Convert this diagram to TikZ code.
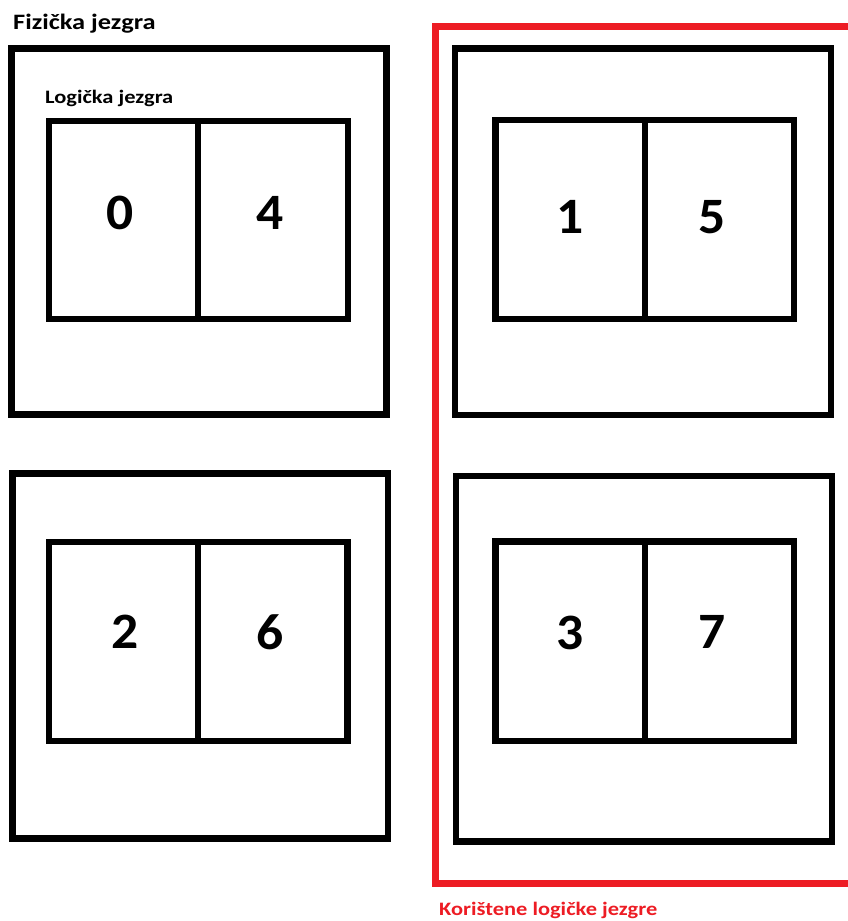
\documentclass[tikz,border=0pt]{standalone}
\usepackage{fontspec}
\setmainfont{Carlito}
\definecolor{paintred}{RGB}{237,28,36}
\begin{document}
\begin{tikzpicture}[x=1pt,y=-1pt,
  box/.style={draw=black, line width=6.5pt, rectangle, inner sep=0pt, outer sep=0pt},
  num/.style={font=\bfseries\fontsize{51}{51}\selectfont, inner sep=0pt, xscale=1.05},
  lbl/.style={font=\bfseries\fontsize{#1}{#1}\selectfont, inner sep=0pt, anchor=base west},
  redline/.style={draw=paintred, line width=7pt}]
\useasboundingbox (0,0) rectangle (848,921);
% physical cores
\node[box, minimum width=375pt, minimum height=366pt] (p0) at (199,231.5) {};
\node[box, minimum width=375.5pt, minimum height=365pt] (p2) at (200.25,656) {};
\node[box, minimum width=376pt, minimum height=366.5pt] (p1) at (643,231.75) {};
\node[box, minimum width=376pt, minimum height=365.5pt] (p3) at (644,658.75) {};
% logical cores
\node[box, minimum width=149pt, minimum height=198pt] (c0) at (123.5,220) {};
\node[box, minimum width=150pt, minimum height=198pt] (c4) at (273,220) {};
\node[box, minimum width=149pt, minimum height=199pt] (c2) at (123.5,641.5) {};
\node[box, minimum width=149.5pt, minimum height=199pt] (c6) at (272.75,641.5) {};
\node[box, minimum width=149.5pt, minimum height=199pt] (c1) at (570.25,219.5) {};
\node[box, minimum width=149pt, minimum height=199pt] (c5) at (719.5,219.5) {};
\node[box, minimum width=149.5pt, minimum height=199.5pt] (c3) at (570.25,641.25) {};
\node[box, minimum width=149pt, minimum height=199.5pt] (c7) at (719.5,641.25) {};
% numbers
\node[num] (n0) at (120,213) {0};
\node[num] (n4) at (270,213) {4};
\node[num] (n1) at (570,217) {1};
\node[num] (n5) at (712,217) {5};
\node[num] (n2) at (125,632) {2};
\node[num] (n6) at (270,632) {6};
\node[num] (n3) at (570,633) {3};
\node[num] (n7) at (712,632) {7};
% labels
\node[lbl=22, xscale=1.2] (fiz) at (13,29) {Fizička jezgra};
\node[lbl=19, xscale=1.18] (log) at (45,103) {Logička jezgra};
\node[lbl=19, xscale=1.18, text=paintred] (kor) at (439,915) {Korištene logičke jezgre};
% red bracket
\coordinate (r1) at (848,26.5);
\coordinate (r2) at (435.5,26.5);
\coordinate (r3) at (435.5,883.5);
\coordinate (r4) at (848,883.5);
\draw[redline] (r1) -- (r2) -- (r3) -- (r4);
\end{tikzpicture}
\end{document}
